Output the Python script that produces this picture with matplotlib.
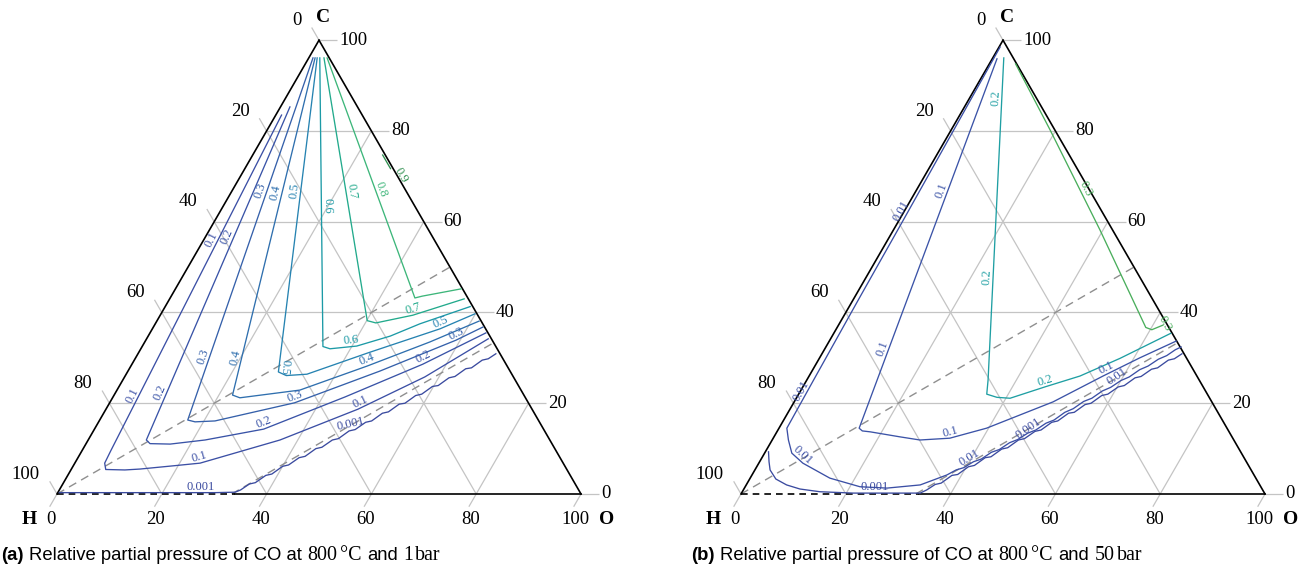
import numpy as np
import matplotlib
matplotlib.use('Agg')
import matplotlib.pyplot as plt

plt.rcParams['font.family'] = ['Liberation Serif', 'DejaVu Serif']

# Compositions in percent, given as O and C (H = 100 - O - C)

# ---- (a) 800 °C and 1 bar ----
a_levels = ['0.001', '0.1', '0.2', '0.3', '0.4', '0.5', '0.6', '0.7', '0.8', '0.9']

a_0001_o = [0.3, 10.0, 20.0, 30.0, 33.8, 34.6, 35.6, 36.6, 37.8, 38.8, 40.0, 41.0, 42.2, 43.2,
            44.4, 45.4, 46.6, 47.6, 48.8, 49.8, 51.0, 52.0, 53.2, 54.2, 55.4, 56.4, 57.6, 58.6,
            59.8, 60.8, 62.0, 63.0, 64.2, 65.2, 66.4, 67.4, 68.3]
a_0001_c = [0.3, 0.3, 0.3, 0.3, 0.4, 0.9, 2.2, 2.5, 4.1, 4.4, 6.1, 6.4, 8.0, 8.3,
            10.0, 10.3, 11.9, 12.2, 13.9, 14.2, 15.8, 16.1, 17.8, 18.1, 19.8, 20.0, 21.7, 22.0,
            23.7, 23.9, 25.6, 25.9, 27.6, 27.8, 29.5, 29.8, 30.9]
a_01_o = [1.1, 5.5, 5.7, 6.6, 10.3, 13.1, 19.0, 23.9, 36.6, 48.1, 57.3, 65.2]
a_01_c = [83.5, 9.5, 6.8, 5.4, 5.3, 5.5, 6.2, 6.8, 11.9, 18.7, 25.8, 34.2]
a_02_o = [1.8, 11.1, 12.2, 16.1, 22.3, 32.3, 44.3, 55.5, 64.1]
a_02_c = [85.3, 11.9, 11.1, 11.0, 11.9, 14.3, 21.4, 28.6, 35.5]
a_03_o = [0.8, 16.8, 18.4, 22.1, 35.3, 48.1, 59.2, 62.9]
a_03_c = [96.1, 16.3, 15.9, 16.1, 20.1, 27.1, 33.9, 36.8]
a_04_o = [1.2, 22.6, 24.3, 34.9, 45.1, 54.4, 61.5]
a_04_c = [96.1, 21.8, 21.2, 22.9, 28.2, 33.5, 38.1]
a_05_o = [1.6, 28.8, 30.7, 34.5, 43.8, 54.9, 59.9]
a_05_c = [96.1, 26.9, 26.1, 26.4, 31.1, 36.4, 39.7]
a_06_o = [2.1, 34.5, 36.1, 40.9, 46.2, 50.5, 58.2]
a_06_c = [96.1, 32.5, 32.0, 32.6, 34.8, 37.5, 41.3]
a_07_o = [2.9, 40.1, 42.0, 48.2, 56.2]
a_07_c = [96.1, 38.2, 37.7, 39.4, 43.0]
a_08_o = [3.5, 46.7, 47.9, 54.5]
a_08_c = [96.1, 43.2, 43.6, 45.2]
a_09_o = [24.8, 27.8]
a_09_c = [74.7, 71.7]

a_lab_lev = ['0.1', '0.1', '0.1', '0.1', '0.2', '0.2', '0.2', '0.2', '0.3', '0.3', '0.3', '0.3',
             '0.4', '0.4', '0.4', '0.5', '0.5', '0.5', '0.6', '0.6', '0.7', '0.7', '0.8', '0.9',
             '0.001', '0.001']
a_lab_o = [0.9, 3.1, 22.9, 47.3, 4.0, 7.5, 31.5, 54.7, 5.5, 12.3, 34.5, 58.4,
           8.2, 18.9, 44.4, 11.5, 28.9, 54.2, 19.9, 38.8, 23.0, 47.5, 28.4, 30.7, 26.7, 48.3]
a_lab_c = [56.4, 21.9, 8.4, 20.7, 56.7, 22.7, 15.9, 30.3, 66.8, 30.4, 21.6, 35.5,
           66.4, 30.0, 29.5, 66.8, 28.0, 37.9, 63.6, 34.4, 66.8, 40.8, 67.2, 70.4, 1.5, 15.5]

# ---- (b) 800 °C and 50 bar ----
b_levels = ['0.001', '0.01', '0.1', '0.2', '0.3']

b_0001_o = [0.6, 1.8, 2.9, 5.0, 7.7, 10.7, 14.8, 21.3, 34.1, 35.0, 36.0, 37.0, 38.2, 39.2,
            40.4, 41.4, 42.6, 43.6, 44.8, 45.8, 47.0, 48.0, 49.2, 50.2, 51.4, 52.4, 53.6, 54.6,
            55.8, 56.8, 58.0, 59.0, 60.2, 61.2, 62.4, 63.4, 64.6, 65.6, 66.8, 67.8, 68.7]
b_0001_c = [9.3, 7.1, 5.3, 3.3, 2.0, 1.1, 0.5, 0.2, 0.2, 0.9, 2.1, 2.4, 4.1, 4.3,
            6.0, 6.3, 8.0, 8.2, 9.9, 10.2, 11.9, 12.2, 13.8, 14.1, 15.8, 16.1, 17.8, 18.0,
            19.7, 20.0, 21.7, 22.0, 23.6, 23.9, 25.6, 25.9, 27.5, 27.8, 29.5, 29.8, 30.9]
b_001_o = [0.2, 0.5, 0.8, 1.0, 1.3, 1.5, 3.1, 5.2, 8.4, 15.2, 21.9, 27.2, 33.2, 37.2,
           38.4, 39.6, 40.8, 42.0, 43.2, 44.4, 45.6, 46.8, 48.0, 49.2, 50.4, 51.6, 52.8, 54.0,
           55.2, 56.4, 57.6, 58.8, 60.0, 61.2, 62.4, 63.6, 64.8, 66.0, 67.0, 67.8]
b_001_c = [98.5, 80.0, 60.0, 42.8, 25.0, 14.5, 11.9, 9.0, 6.8, 3.5, 1.6, 1.3, 2.0, 4.2,
           5.3, 5.8, 7.1, 7.7, 9.2, 9.8, 11.3, 12.0, 13.4, 14.1, 15.6, 16.3, 18.0, 18.8,
           20.4, 21.1, 22.7, 23.5, 25.0, 25.8, 27.4, 28.2, 29.7, 30.5, 31.8, 32.4]
b_01_o = [0.9, 15.3, 16.2, 17.8, 24.0, 28.2, 33.7, 39.6, 49.4, 56.1, 61.1, 66.2]
b_01_c = [95.9, 14.5, 13.9, 13.7, 12.6, 11.9, 12.3, 14.5, 20.3, 26.0, 30.0, 33.7]
b_02_o = [2.1, 34.6, 35.9, 38.2, 40.8, 46.2, 51.7, 57.4, 64.3]
b_02_c = [96.1, 25.1, 22.0, 21.3, 21.1, 23.6, 26.0, 29.9, 35.4]
b_03_o = [5.0, 18.9, 39.4, 58.9, 60.3, 61.9]
b_03_c = [94.8, 80.2, 58.2, 36.7, 36.2, 37.2]

b_lab_lev = ['0.001', '0.001', '0.01', '0.01', '0.01', '0.01', '0.01', '0.1', '0.1', '0.1', '0.1',
             '0.2', '0.2', '0.2', '0.3', '0.3']
b_lab_o = [24.9, 48.1, 0.5, 0.5, 7.5, 39.3, 58.7, 4.6, 10.8, 33.0, 55.9, 5.2, 22.9, 45.7, 31.9, 60.5]
b_lab_c = [1.3, 14.1, 61.9, 22.5, 8.2, 8.2, 26.0, 67.0, 32.1, 13.7, 27.7, 87.2, 47.9, 24.7, 67.2, 38.0]

ticks = [0, 20, 40, 60, 80, 100]

a_curves = {'0.001': (a_0001_o, a_0001_c), '0.1': (a_01_o, a_01_c), '0.2': (a_02_o, a_02_c),
            '0.3': (a_03_o, a_03_c), '0.4': (a_04_o, a_04_c), '0.5': (a_05_o, a_05_c),
            '0.6': (a_06_o, a_06_c), '0.7': (a_07_o, a_07_c), '0.8': (a_08_o, a_08_c),
            '0.9': (a_09_o, a_09_c)}
b_curves = {'0.001': (b_0001_o, b_0001_c), '0.01': (b_001_o, b_001_c), '0.1': (b_01_o, b_01_c),
            '0.2': (b_02_o, b_02_c), '0.3': (b_03_o, b_03_c)}

a_colors = ['#3a4a9f', '#3b4fa5', '#3953a7', '#3560aa', '#2f6fae', '#2683b1',
            '#1c9aa6', '#22aa8c', '#3db67a', '#2f8f50']
b_colors = ['#3a4a9f', '#3b4fa5', '#3b53a7', '#1f9fa3', '#4aae5c']

SQ = np.sqrt(3) / 2
S = 5.24  # pixels per percent on the triangle side


def tern(o, c):
    o = np.asarray(o, float)
    c = np.asarray(c, float)
    return o + c / 2, c * SQ


fig = plt.figure(figsize=(13, 5.71), dpi=100)
tickfont = dict(fontsize=13.5, color='black')
grid = dict(color='#c4c4c4', lw=0.9, zorder=1, solid_capstyle='butt')


def frame(ax, x0):
    ax.set_xlim(-x0 / S, (650 - x0) / S)
    ax.set_ylim(-(571 - 494) / S, 494 / S)
    ax.axis('off')
    for v in ticks[1:-1]:
        ax.plot(*tern([v, v], [0, 100 - v]), **grid)
        ax.plot(*tern([0, 100 - v], [v, v]), **grid)
        ax.plot(*tern([0, 100 - v], [100 - v, 0]), **grid)
    for v in ticks:
        bx, by = tern(v, 0)
        ax.plot([bx, bx - 1.4], [by, by - 2.8 * SQ], **grid)
        ax.text(bx - 1.15, by - 4.96, str(v), ha='center', va='center', **tickfont)
        rx, ry = tern(100 - v, v)
        ax.plot([rx, rx + 3.4], [ry, ry], **grid)
        ax.text(rx + 3.8, ry, str(v), ha='left', va='center', **tickfont)
        lx, ly = tern(0, 100 - v)
        ax.plot([lx, lx - 1.4], [ly, ly + 2.8 * SQ], **grid)
        ax.text(lx - 3.25, ly + 3.8, str(v), ha='right', va='center', **tickfont)
    edge = dict(color='black', lw=1.2, zorder=3)
    ax.plot(*tern([0, 0], [0, 100]), **edge)
    ax.plot(*tern([100, 0], [0, 100]), **edge)
    ax.plot(*tern([34, 100], [0, 0]), **edge)
    ax.plot(*tern([0, 34], [0, 0]), color='black', lw=1.2, ls=(0, (4, 3)), zorder=3)
    dash = dict(color='#8f8f8f', lw=1.0, ls=(0, (6, 4)), zorder=2)
    ax.plot(*tern([0, 50], [0, 50]), **dash)
    ax.plot(*tern([100 / 3, 200 / 3], [0, 100 / 3]), **dash)
    letter = dict(fontsize=14, fontweight='bold', ha='center', va='center')
    ax.text(*(np.array(tern(0, 100)) + [0.76, 4.4]), 'C', **letter)
    ax.text(*(np.array(tern(0, 0)) + [-5.2, -4.96]), 'H', **letter)
    ax.text(*(np.array(tern(100, 0)) + [4.96, -4.96]), 'O', **letter)


def contours(ax, curves, levels, colors):
    for lev, col in zip(levels, colors):
        ax.plot(*tern(*curves[lev]), color=col, lw=0.95, zorder=4, solid_joinstyle='round')


def labels(ax, curves, levels, colors, lab_lev, lab_o, lab_c, rot_over):
    cmap = dict(zip(levels, colors))
    for k, (lev, o, c) in enumerate(zip(lab_lev, lab_o, lab_c)):
        xs, ys = tern(*curves[lev])
        px, py = tern(o, c)
        best = None
        n = len(xs) - 1
        for i in range(n):
            dx, dy = xs[i + 1] - xs[i], ys[i + 1] - ys[i]
            t = ((px - xs[i]) * dx + (py - ys[i]) * dy) / (dx * dx + dy * dy)
            tc = min(max(t, 0.0), 1.0)
            d = np.hypot(xs[i] + tc * dx - px, ys[i] + tc * dy - py)
            if best is None or d < best[0]:
                tt = tc
                if (i == 0 and t < 0) or (i == n - 1 and t > 1):
                    tt = t
                best = (d, xs[i] + tt * dx, ys[i] + tt * dy, dx, dy)
        _, qx, qy, dx, dy = best
        ang = np.degrees(np.arctan2(dy, dx))
        ang = (ang + 90) % 180 - 90
        if k in rot_over:
            ang = rot_over[k]
        ax.text(qx, qy, lev, rotation=ang, rotation_mode='anchor', ha='center', va='bottom',
                fontsize=9, color=cmap[lev], zorder=5)


def caption(ax, x, y, pieces):
    r = fig.canvas.get_renderer()
    X, Y = ax.transData.transform((x, y))
    for s, fam, bold, size, gap in pieces:
        t = fig.text(X / fig.bbox.width, Y / fig.bbox.height, s, family=fam,
                     weight='bold' if bold else 'normal', fontsize=size, va='baseline')
        X += t.get_window_extent(r).width + gap


axa = fig.add_axes([0, 0, 0.5, 1])
frame(axa, 57)
contours(axa, a_curves, a_levels, a_colors)
labels(axa, a_curves, a_levels, a_colors, a_lab_lev, a_lab_o, a_lab_c, {16: -95})

axb = fig.add_axes([0.5, 0, 0.5, 1])
frame(axb, 91)
contours(axb, b_curves, b_levels, b_colors)
labels(axb, b_curves, b_levels, b_colors, b_lab_lev, b_lab_o, b_lab_c, {15: -62})

sans = ['Liberation Sans', 'DejaVu Sans']
serif = ['Liberation Serif', 'DejaVu Serif']
for ax, x0, tag, p in [(axa, -10.7, '(a)', '1'), (axb, -9.5, '(b)', '50')]:
    caption(ax, x0, -12.6, [(tag, sans, True, 13.3, 5.5),
                            ('Relative partial pressure of CO at', sans, False, 13.3, 5.5),
                            ('800', serif, False, 14.4, 2.5), ('°C', serif, False, 14.4, 5.5),
                            ('and', sans, False, 13.3, 5.5), (p, serif, False, 14.4, 2.5),
                            ('bar', serif, False, 14.4, 0)])

fig.savefig('out.png', dpi=100)
